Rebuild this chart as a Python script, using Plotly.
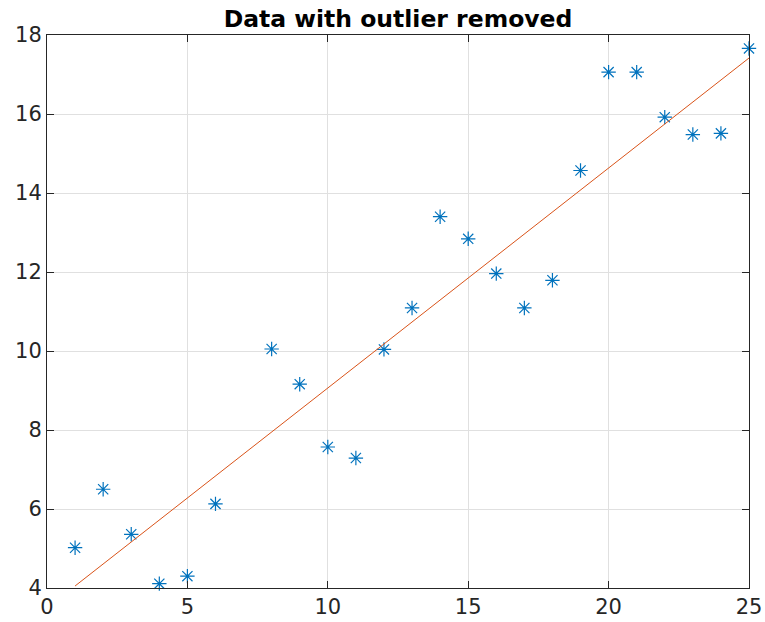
import numpy as np
import plotly.graph_objects as go

x_vals = [1, 2, 3, 4, 5, 6, 8, 9, 10, 11, 12, 13, 14, 15, 16, 17, 18, 19, 20, 21, 22, 23, 24, 25]
y_vals = [5.02, 6.50, 5.36, 4.11, 4.30, 6.13, 10.05, 9.16, 7.57, 7.29, 10.04, 11.09,
          13.40, 12.84, 11.96, 11.09, 11.79, 14.57, 17.06, 17.06, 15.92, 15.48, 15.51, 17.66]
x_ticks = [0, 5, 10, 15, 20, 25]
y_ticks = [4, 6, 8, 10, 12, 14, 16, 18]
title = "Data with outlier removed"

coef = np.polyfit(x_vals, y_vals, 1)
fit_x = [x_vals[0], x_vals[-1]]
fit_y = list(np.polyval(coef, fit_x))

fig = go.Figure()
fig.add_trace(go.Scatter(x=x_vals, y=y_vals, mode="markers",
                         marker=dict(symbol="asterisk-open", size=12, color="#0072BD",
                                     line=dict(color="#0072BD", width=1.2)),
                         showlegend=False, cliponaxis=False))
fig.add_trace(go.Scatter(x=fit_x, y=fit_y, mode="lines",
                         line=dict(color="#D95319", width=1), showlegend=False))

axis_common = dict(showline=True, linecolor="#262626", linewidth=1, mirror="ticks",
                   ticks="inside", ticklen=7, tickcolor="#262626", tickwidth=1,
                   showgrid=True, gridcolor="#e0e0e0", gridwidth=1, zeroline=False,
                   automargin=False,
                   tickfont=dict(family="DejaVu Sans", size=21, color="#262626"))
fig.update_xaxes(range=[0, 25], tickvals=x_ticks, **axis_common)
fig.update_yaxes(range=[4, 18], tickvals=y_ticks, **axis_common)

fig.update_layout(
    width=765, height=622,
    margin=dict(l=47, r=16, t=35, b=34),
    plot_bgcolor="white", paper_bgcolor="white",
    title=dict(text="<b>" + title + "</b>", x=0.5, xref="paper", xanchor="center",
               y=1 - 19 / 622, yanchor="middle", automargin=False,
               font=dict(family="DejaVu Sans", size=23.5, color="black")),
)
fig.write_html("out.html")
